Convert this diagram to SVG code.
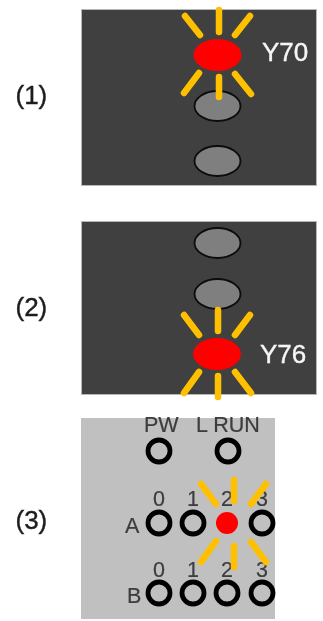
<svg xmlns="http://www.w3.org/2000/svg" width="323" height="621" viewBox="0 0 323 621">
<defs>
<filter id="soft" x="-5%" y="-5%" width="110%" height="110%"><feGaussianBlur stdDeviation="0.7"/></filter>
</defs>
<style>
text{font-family:"Liberation Sans",Arial,sans-serif}
.cap{font-size:26px;fill:#1f1f1f;stroke:#1f1f1f;stroke-width:.4}
.dark{fill:#404040;stroke:#b8b8b8;stroke-width:1}
.light{fill:#c0c0c0}
.off{fill:#7f7f7f;stroke:#0a0a0a;stroke-width:1.8}
.on{fill:#f00}
.ray{stroke:#ffc000;stroke-width:6.5;stroke-linecap:round;fill:none}
.tag{font-size:26px;fill:#f6f6f6;stroke:#f6f6f6;stroke-width:.4}
.lab{font-size:21.5px;fill:#3c3c3c;stroke:#3c3c3c;stroke-width:.2}
.mid{text-anchor:middle}
.ring{fill:none;stroke:#000;stroke-width:4.8}
</style>
<g filter="url(#soft)">
<g id="caption-1"><text class="cap" x="15.5" y="104">(1)</text></g>
<g id="caption-2"><text class="cap" x="15.5" y="316">(2)</text></g>
<g id="caption-3"><text class="cap" x="15.5" y="529">(3)</text></g>

<g id="panel-1">
<rect class="dark" x="81.5" y="9.5" width="235" height="176"/>
<ellipse class="off" cx="217.5" cy="106" rx="23" ry="15"/>
<ellipse class="off" cx="217.5" cy="161" rx="23" ry="15"/>
<ellipse class="on" cx="217.5" cy="55" rx="24" ry="16"/>
<path class="ray" d="M219 10V32M185 16L200 35M250 16L235 35M199 73L184 93M219 77V97M235 74L251 94"/>
<text class="tag" x="262" y="61">Y70</text>
</g>

<g id="panel-2">
<rect class="dark" x="81.5" y="221.5" width="235" height="173"/>
<ellipse class="off" cx="217.5" cy="243" rx="23" ry="15"/>
<ellipse class="off" cx="217.5" cy="294" rx="23" ry="15"/>
<ellipse class="on" cx="217" cy="354" rx="24" ry="16"/>
<path class="ray" d="M218 310V331M184 315L199 335M250 315L235 335M199 372L184 393M218 376V397M235 372L251 393"/>
<text class="tag" x="260" y="363">Y76</text>
</g>

<g id="panel-3">
<rect class="light" x="81" y="418" width="194" height="201"/>
<text class="lab" x="144" y="432">PW</text>
<text class="lab" x="196" y="432">L RUN</text>
<circle class="ring" cx="159" cy="451" r="11"/>
<circle class="ring" cx="228" cy="451" r="11"/>
<text class="lab mid" x="159" y="506">0</text>
<text class="lab mid" x="193" y="506">1</text>
<text class="lab mid" x="227" y="506">2</text>
<text class="lab mid" x="262" y="506">3</text>
<text class="lab" x="125" y="533">A</text>
<circle class="ring" cx="159" cy="523" r="11"/>
<circle class="ring" cx="193" cy="523" r="11"/>
<circle class="on" cx="227" cy="523" r="11"/>
<circle class="ring" cx="262" cy="523" r="11"/>
<text class="lab mid" x="159" y="577">0</text>
<text class="lab mid" x="193" y="577">1</text>
<text class="lab mid" x="227" y="577">2</text>
<text class="lab mid" x="262" y="577">3</text>
<text class="lab" x="127" y="603">B</text>
<circle class="ring" cx="159" cy="593" r="11"/>
<circle class="ring" cx="193" cy="593" r="11"/>
<circle class="ring" cx="227" cy="593" r="11"/>
<circle class="ring" cx="262" cy="593" r="11"/>
<path class="ray" d="M201 484L216 504M234 480V501M266 484L251 504M216 541L201 562M234 546V567M251 542L266 562"/>
</g>
</g>
</svg>
